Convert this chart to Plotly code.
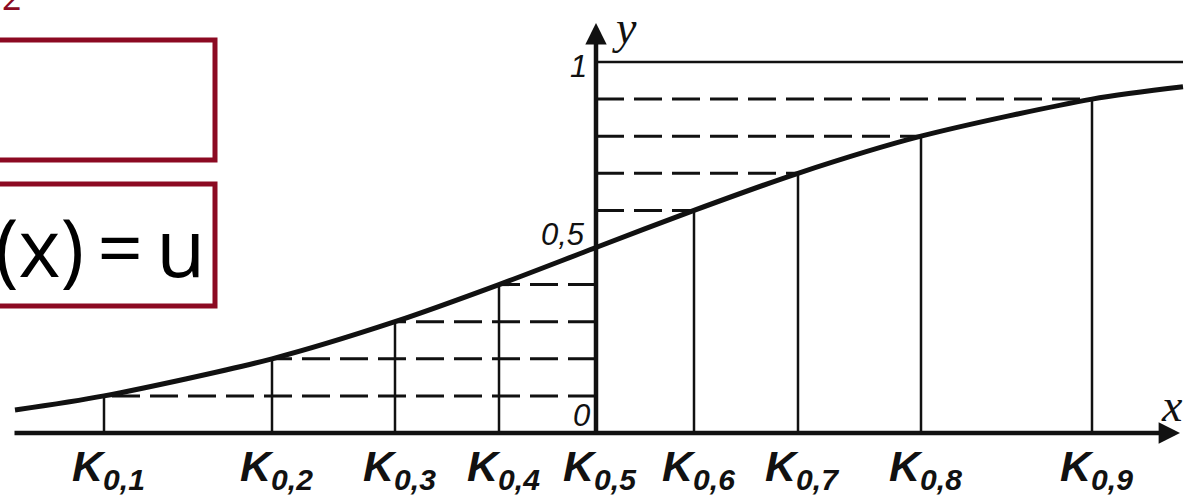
import plotly.graph_objects as go

# ---- data ----
prob = [0.1, 0.2, 0.3, 0.4, 0.5, 0.6, 0.7, 0.8, 0.9]
k_vals = [-4.92, -3.24, -2.01, -0.97, 0.0, 0.98, 2.02, 3.25, 4.96]
k_labels = ["K<sub>0,1</sub>", "K<sub>0,2</sub>", "K<sub>0,3</sub>", "K<sub>0,4</sub>",
            "K<sub>0,5</sub>", "K<sub>0,6</sub>", "K<sub>0,7</sub>", "K<sub>0,8</sub>",
            "K<sub>0,9</sub>"]
curve_x = [-5.81, -4.92, -3.24, -2.01, -0.97, 0.0, 0.98, 2.02, 3.25, 4.96, 5.87]
curve_y = [0.062, 0.1, 0.2, 0.3, 0.4, 0.5, 0.6, 0.7, 0.8, 0.9, 0.933]
ytick_vals = [1.0, 0.5, 0.0]
ytick_text = ["1", "0,5", "0"]
box_text = "(x)\u2009=\u2009u"
corner_text = "2"

W, H = 1188, 496
X_RANGE = [-5.96, 5.92]
Y_RANGE = [-0.1698, 1.1671]
INK = "#111111"
RED = "#8C0A22"

fig = go.Figure()

# dashed guides from y-axis to curve
dx, dy = [], []
for p, k in zip(prob, k_vals):
    if p == 0.5:
        continue
    dx += [0, k, None]
    dy += [p, p, None]
fig.add_trace(go.Scatter(x=dx, y=dy, mode="lines",
                         line=dict(color=INK, width=3, dash="28px,10px"),
                         hoverinfo="skip", showlegend=False))

# vertical lines from x-axis to curve
vx, vy = [], []
for p, k in zip(prob, k_vals):
    vx += [k, k, None]
    vy += [0, p, None]
fig.add_trace(go.Scatter(x=vx, y=vy, mode="lines",
                         line=dict(color=INK, width=2.5),
                         hoverinfo="skip", showlegend=False))

# y = 1 asymptote
fig.add_trace(go.Scatter(x=[0, curve_x[-1]], y=[1, 1], mode="lines",
                         line=dict(color=INK, width=2.5),
                         hoverinfo="skip", showlegend=False))

# distribution curve
fig.add_trace(go.Scatter(x=curve_x, y=curve_y, mode="lines",
                         line=dict(color=INK, width=5, shape="spline", smoothing=0.8),
                         hoverinfo="skip", showlegend=False))

ann = []
# axes with arrows
ann.append(dict(x=5.84, y=0, ax=-5.83, ay=0, xref="x", yref="y", axref="x", ayref="y",
                text="", showarrow=True, arrowhead=2, arrowsize=0.95, arrowwidth=4.5,
                arrowcolor=INK, standoff=0, startstandoff=0))
ann.append(dict(x=0, y=1.105, ax=0, ay=-0.008, xref="x", yref="y", axref="x", ayref="y",
                text="", showarrow=True, arrowhead=2, arrowsize=0.95, arrowwidth=4.5,
                arrowcolor=INK, standoff=0, startstandoff=0))

# axis names
ann.append(dict(x=0, y=1.092, xref="x", yref="y", text="<i>y</i>", showarrow=False,
                xshift=28, font=dict(family="Liberation Serif", size=46, color=INK)))
ann.append(dict(x=5.76, y=0.073, xref="x", yref="y", text="<i>x</i>", showarrow=False,
                font=dict(family="Liberation Serif", size=46, color=INK)))

# y tick labels
shifts = {"1": (-18, -4), "0,5": (-33, 13), "0": (-15, 18)}
for v, t in zip(ytick_vals, ytick_text):
    xs, ys = shifts[t]
    ann.append(dict(x=0, y=v, xref="x", yref="y", text="<i>" + t + "</i>", showarrow=False,
                    xshift=xs, yshift=ys,
                    font=dict(family="Liberation Sans", size=31, color=INK)))

# quantile labels
for k, t in zip(k_vals, k_labels):
    ann.append(dict(x=k, y=0, xref="x", yref="y", text="<b><i>" + t + "</i></b>",
                    showarrow=False, yanchor="top", yshift=-7, xshift=4,
                    font=dict(family="Liberation Sans", size=43, color=INK)))

# overlay text (partial slide content)
ann.append(dict(x=-0.006, y=0.506, xref="paper", yref="paper", text=box_text,
                showarrow=False, xanchor="left", yanchor="middle",
                font=dict(family="Open Sans", size=80, color="#000000")))
ann.append(dict(x=0.0, y=1.0, xref="paper", yref="paper", text=corner_text,
                showarrow=False, xanchor="left", yanchor="bottom", yshift=-22,
                font=dict(family="Open Sans", size=34, color=RED)))

shapes = [
    dict(type="rect", xref="paper", yref="paper",
         x0=-0.02, x1=215 / W, y0=1 - 160 / H, y1=1 - 40 / H,
         line=dict(color=RED, width=5), fillcolor="rgba(0,0,0,0)"),
    dict(type="rect", xref="paper", yref="paper",
         x0=-0.02, x1=215 / W, y0=1 - 306 / H, y1=1 - 184 / H,
         line=dict(color=RED, width=5), fillcolor="rgba(0,0,0,0)"),
]

fig.update_layout(
    width=W, height=H, autosize=False,
    margin=dict(l=0, r=0, t=0, b=0),
    paper_bgcolor="white", plot_bgcolor="white",
    xaxis=dict(range=X_RANGE, visible=False, fixedrange=True),
    yaxis=dict(range=Y_RANGE, visible=False, fixedrange=True),
    annotations=ann, shapes=shapes,
)

fig.write_html("out.html", config={"displayModeBar": False},
               post_script="document.body.style.margin='0';")
